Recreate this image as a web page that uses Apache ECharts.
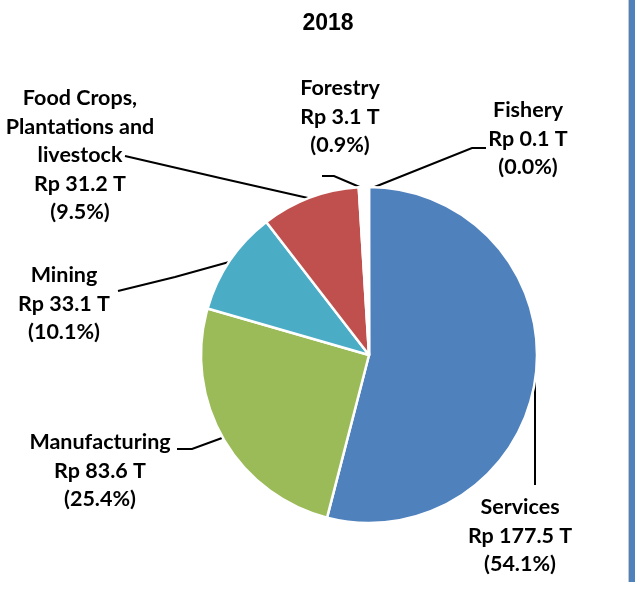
<!DOCTYPE html>
<html>
<head>
<meta charset="utf-8">
<script src="https://cdn.jsdelivr.net/npm/echarts@6/dist/echarts.min.js"></script>
<style>
  html, body { margin: 0; padding: 0; background: #fff; }
  #chart { width: 635px; height: 590px; }
</style>
</head>
<body>
<div id="chart"></div>
<script>
// data
const sectors = ["Services", "Manufacturing", "Mining", "Food Crops,\nPlantations and\nlivestock", "Forestry", "Fishery"];
const valuesT = [177.5, 83.6, 33.1, 31.2, 3.1, 0.1];
const shares = ["54.1", "25.4", "10.1", "9.5", "0.9", "0.0"];
const colors = ["#4F81BD", "#9BBB59", "#4BACC6", "#C0504D", "#FFFFFF", "#F79646"];

// label block spots + leader lines (layout only)
const labelSpots = [
  { x: 520, y: 493, line: [[535, 378], [535, 430], [535, 485]] },
  { x: 100, y: 428, line: [[222, 438], [192, 449], [177, 449]] },
  { x: 64, y: 261, line: [[229, 262], [175, 277], [118, 291]] },
  { x: 80, y: 84, line: [[308, 198], [220, 178], [125, 156]] },
  { x: 340, y: 74, line: [[362, 188], [334, 176], [322, 176]] },
  { x: 528, y: 96, line: [[372, 188], [472, 148], [486, 148]] }
];

const chart = echarts.init(document.getElementById("chart"));

chart.setOption({
  animation: false,
  title: {
    text: "2018",
    left: 323,
    top: 7,
    textAlign: "center",
    textStyle: { fontFamily: "Liberation Sans", fontWeight: "bold", fontSize: 23, color: "#000" }
  },
  graphic: [
    // blue frame strip on the right edge
    { type: "rect", shape: { x: 628, y: 0, width: 1, height: 582 }, style: { fill: "#c8c8c8" } },
    { type: "rect", shape: { x: 629, y: 0, width: 6, height: 582 }, style: { fill: "#4F81BD" } }
  ],
  series: [{
    type: "pie",
    center: [369, 355],
    radius: 168,
    startAngle: 90,
    clockwise: true,
    avoidLabelOverlap: false,
    minShowLabelAngle: 0,
    itemStyle: { borderColor: "#fff", borderWidth: 2.5 },
    label: {
      show: true,
      position: "outer",
      fontFamily: "Lato",
      fontWeight: "bold",
      fontSize: 21.5,
      lineHeight: 28.5,
      color: "#000",
      align: "center",
      formatter: p => p.name + "\nRp " + valuesT[p.dataIndex].toFixed(1) + " T\n(" + shares[p.dataIndex] + "%)"
    },
    labelLine: { show: true, lineStyle: { color: "#000", width: 2 } },
    labelLayout: p => {
      const s = labelSpots[p.dataIndex];
      return { x: s.x, y: s.y, align: "center", verticalAlign: "top", labelLinePoints: s.line };
    },
    data: sectors.map((name, i) => ({ name: name, value: valuesT[i], itemStyle: { color: colors[i] } }))
  }]
});
</script>
</body>
</html>
